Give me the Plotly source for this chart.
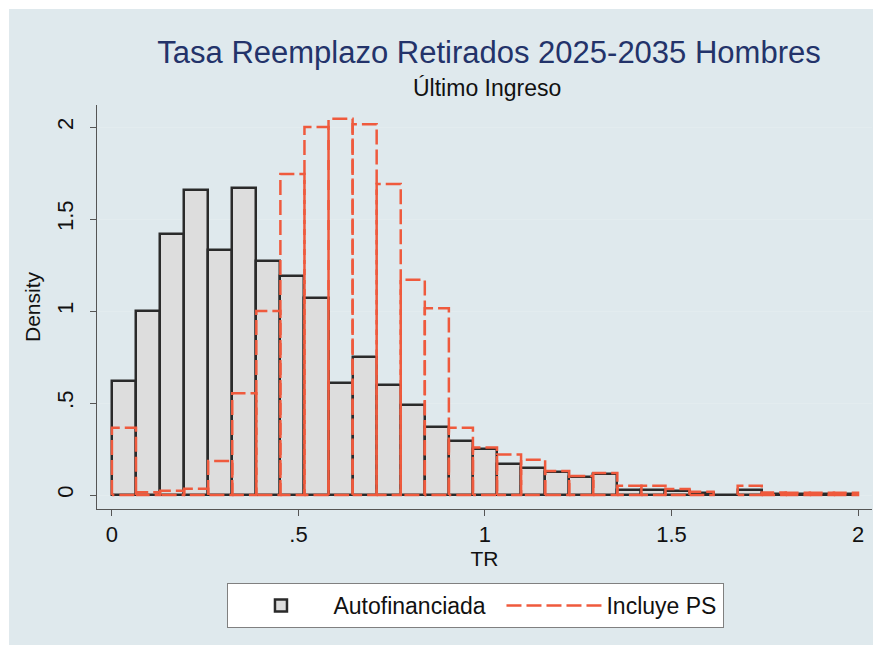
import plotly.graph_objects as go

# ---- data ----
bin_start = 0.0
bin_width = 2.0 / 31
autofinanciada = [0.62, 1.00, 1.42, 1.66, 1.33, 1.67, 1.27, 1.19, 1.07, 0.61,
                  0.75, 0.60, 0.49, 0.37, 0.295, 0.25, 0.17, 0.145, 0.125, 0.10,
                  0.115, 0.03, 0.025, 0.02, 0.01, 0.0, 0.025, 0.006, 0.005, 0.005, 0.005]
incluye_ps = [0.365, 0.015, 0.023, 0.034, 0.185, 0.553, 1.00, 1.745, 2.00, 2.045,
              2.015, 1.69, 1.17, 1.015, 0.365, 0.258, 0.22, 0.192, 0.13, 0.103,
              0.12, 0.05, 0.05, 0.033, 0.018, 0.0, 0.05, 0.014, 0.012, 0.012, 0.012]
x_ticks = [0, 0.5, 1, 1.5, 2]
x_tick_labels = ["0", ".5", "1", "1.5", "2"]
y_ticks = [0, 0.5, 1, 1.5, 2]
y_tick_labels = ["0", ".5", "1", "1.5", "2"]

FONT = "Liberation Sans, Arial, sans-serif"
BG = "#dfe9ed"
RED = "#ef5a3d"

n = len(autofinanciada)
lefts = [bin_start + i * bin_width for i in range(n)]
centers = [l + bin_width / 2 for l in lefts]

fig = go.Figure()
fig.add_trace(go.Bar(
    x=centers, y=autofinanciada, width=[bin_width] * n,
    marker=dict(color="#dddddd", line=dict(color="#2a2a2a", width=2.5)),
    name="Autofinanciada", legendwidth=163,
))

# red dashed outlines of the second histogram (built from the data)
rx, ry = [], []
for l, v in zip(lefts, incluye_ps):
    if v <= 0:
        continue
    r = l + bin_width
    rx += [l, l, r, r, l, None]
    ry += [0, v, v, 0, 0, None]
fig.add_trace(go.Scatter(
    x=rx, y=ry, mode="lines", name="Incluye PS", legendwidth=112,
    line=dict(color=RED, width=2.5, dash="15px,5px"),
))

# page background frame (Stata style)
fig.add_shape(type="rect", xref="paper", yref="paper",
              x0=-0.1135, x1=1.02, y0=-0.3366, y1=1.2376,
              fillcolor=BG, line=dict(width=0), layer="below")

# subtitle
fig.add_annotation(text="Último Ingreso", xref="paper", yref="paper",
                   x=0.503, y=1.042, xanchor="center", yanchor="middle",
                   showarrow=False, font=dict(family=FONT, size=23, color="#111111"))

fig.update_layout(
    width=873, height=640,
    margin=dict(l=89, r=9, t=97, b=139, autoexpand=False),
    paper_bgcolor="white", plot_bgcolor="white",
    font=dict(family=FONT, color="#111111", size=20),
    title=dict(
        text="Tasa Reemplazo Retirados 2025-2035 Hombres",
        font=dict(family=FONT, size=31, color="#23336a"),
        x=0.551, xanchor="center", xref="container",
        y=1 - 44 / 640, yanchor="middle", yref="container",
    ),
    bargap=0,
    showlegend=True,
    legend=dict(
        orientation="h", x=0.489, xanchor="center", y=-0.183, yanchor="top",
        bgcolor="white", bordercolor="#808080", borderwidth=1,
        font=dict(family=FONT, size=23, color="#111111"),
        itemwidth=95,
    ),
    xaxis=dict(
        range=[-0.040, 2.0375], tickvals=x_ticks, ticktext=x_tick_labels,
        showgrid=False, zeroline=False, showline=True, linecolor="#555555", linewidth=1,
        ticks="outside", ticklen=6, tickcolor="#555555", automargin=False,
        tickfont=dict(size=22),
        title=dict(text="TR", font=dict(size=21), standoff=2),
    ),
    yaxis=dict(
        range=[-0.076, 2.12], tickvals=y_ticks, ticktext=y_tick_labels, tickangle=-90,
        showgrid=True, gridcolor="#e3ecef", gridwidth=1,
        zeroline=False, showline=True, linecolor="#555555", linewidth=1,
        ticks="outside", ticklen=6, tickcolor="#555555", automargin=False,
        ticklabelstandoff=8,
        tickfont=dict(size=22),
        title=dict(text="Density", font=dict(size=21), standoff=6),
    ),
)

fig.write_html("out.html")
